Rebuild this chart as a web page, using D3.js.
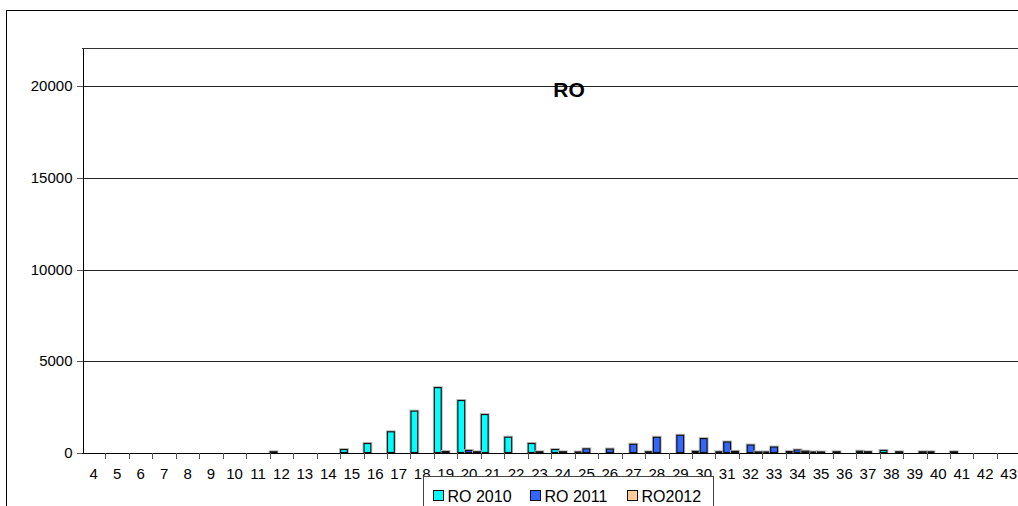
<!DOCTYPE html>
<html>
<head>
<meta charset="utf-8">
<script src="https://cdn.jsdelivr.net/npm/d3@7"></script>
<style>
  html, body { margin: 0; padding: 0; background: #fff; }
  svg { display: block; font-family: Arial, "Liberation Sans", sans-serif; }
</style>
</head>
<body>
<svg id="chart" width="1018" height="506"></svg>
<script>
// Weekly counts for RO, one value per week number
const categories = d3.range(4, 44).map(String);
const seriesNames = ["RO 2010", "RO 2011", "RO2012"];
const seriesColors = ["#00FFFF", "#3366FF", "#FFCC99"];

const ro2010 = [0, 0, 0, 0, 0, 0, 0, 0, 40, 0,
                0, 160, 490, 1130, 2260, 3540, 2835, 2070, 835, 490,
                160, 30, 0, 0, 40, 0, 60, 40, 0, 30,
                50, 30, 40, 70, 110, 0, 40, 40, 0, 0];
const ro2011 = [0, 0, 0, 0, 0, 0, 0, 0, 0, 0,
                0, 0, 0, 0, 0, 50, 110, 0, 0, 40,
                40, 200, 190, 450, 830, 940, 760, 575, 410, 300,
                140, 30, 0, 40, 0, 0, 0, 0, 0, 0];
const ro2012 = [0, 0, 0, 0, 0, 0, 0, 0, 0, 0,
                0, 0, 0, 0, 0, 0, 40, 0, 0, 0,
                0, 0, 0, 0, 0, 0, 0, 60, 30, 0,
                70, 0, 0, 0, 40, 40, 0, 0, 0, 0];
const yTicks = [0, 5000, 10000, 15000, 20000];
const yMax = 22100;
const title = "RO";

const seriesValues = [ro2010, ro2011, ro2012];

const svg = d3.select("#chart");

// Outer chart frame (runs past the right and bottom edges)
svg.append("rect")
  .attr("x", 6.5).attr("y", 10.5)
  .attr("width", 1040).attr("height", 520)
  .attr("fill", "#fff").attr("stroke", "#000").attr("stroke-width", 1);

const plot = { left: 82, top: 48, right: 82 + 40 * 23.46, bottom: 453 };

const x = d3.scaleBand().domain(categories).range([plot.left, plot.right]).padding(0);
const xs = d3.scaleBand().domain(seriesNames).range([0, x.bandwidth()]).padding(0);
const y = d3.scaleLinear().domain([0, yMax]).range([plot.bottom, plot.top]);

// Plot area top border
svg.append("line")
  .attr("x1", plot.left).attr("x2", 1018)
  .attr("y1", plot.top + 0.5).attr("y2", plot.top + 0.5)
  .attr("stroke", "#333").attr("shape-rendering", "crispEdges");

// Horizontal gridlines
svg.append("g")
  .selectAll("line")
  .data(yTicks.filter(d => d > 0))
  .join("line")
  .attr("x1", plot.left).attr("x2", 1018)
  .attr("y1", d => Math.round(y(d)) + 0.5)
  .attr("y2", d => Math.round(y(d)) + 0.5)
  .attr("stroke", "#222").attr("shape-rendering", "crispEdges");

// Y axis
const yAxis = d3.axisLeft(y).tickValues(yTicks).tickSizeInner(6).tickSizeOuter(0)
  .tickPadding(4).tickFormat(d3.format("d"));
const gy = svg.append("g")
  .attr("transform", `translate(${plot.left + 0.5},0.5)`)
  .call(yAxis);
gy.select(".domain").attr("stroke", "#000").attr("shape-rendering", "crispEdges");
gy.selectAll(".tick line").attr("stroke", "#555").attr("shape-rendering", "crispEdges");
gy.selectAll(".tick text")
  .attr("font-size", "15px").attr("fill", "#000")
  .attr("font-family", "Arial, 'Liberation Sans', sans-serif");
gy.selectAll(".tick").attr("transform", d => `translate(0,${Math.round(y(d))})`);

// Bars
const groups = svg.append("g")
  .selectAll("g")
  .data(seriesNames.map((name, i) => ({ name, color: seriesColors[i], values: seriesValues[i] })))
  .join("g");

groups.each(function (s) {
  const g = d3.select(this);
  const data = s.values.map((v, i) => ({ cat: categories[i], v })).filter(d => d.v > 0);
  // soft grey halo around each bar
  g.selectAll("rect.halo")
    .data(data)
    .join("rect")
    .attr("class", "halo")
    .attr("x", d => x(d.cat) + xs(s.name) - 0.5)
    .attr("y", d => y(d.v) - 1.5)
    .attr("width", xs.bandwidth() + 1)
    .attr("height", d => plot.bottom - y(d.v) + 1.5)
    .attr("fill", "none").attr("stroke", "#bbb").attr("stroke-width", 1);
  g.selectAll("rect.bar")
    .data(data)
    .join("rect")
    .attr("class", "bar")
    .attr("x", d => x(d.cat) + xs(s.name) + 0.5)
    .attr("y", d => y(d.v) - 0.5)
    .attr("width", xs.bandwidth() - 1)
    .attr("height", d => Math.max(0.5, plot.bottom - y(d.v)))
    .attr("fill", s.color).attr("stroke", "#111").attr("stroke-width", 1.2);
});

// X axis
const xAxis = d3.axisBottom(x).tickSize(0).tickPadding(15);
const gx = svg.append("g")
  .attr("transform", `translate(0,${plot.bottom + 0.5})`)
  .call(xAxis);
gx.select(".domain").attr("stroke", "#000").attr("d", `M${plot.left},0H1018`);
gx.selectAll(".tick text")
  .attr("font-size", "15px").attr("fill", "#000")
  .attr("font-family", "Arial, 'Liberation Sans', sans-serif");
// boundary tick marks between weeks
svg.append("g")
  .selectAll("line")
  .data(categories.map(c => x(c)).concat([plot.right]).slice(1))
  .join("line")
  .attr("x1", d => Math.round(d) + 0.5).attr("x2", d => Math.round(d) + 0.5)
  .attr("y1", plot.bottom).attr("y2", plot.bottom + 6)
  .attr("stroke", "#555").attr("shape-rendering", "crispEdges");

// Title
svg.append("text")
  .attr("x", 569).attr("y", 97)
  .attr("text-anchor", "middle")
  .attr("font-size", "21px").attr("font-weight", "bold")
  .text(title);

// Legend
const legend = svg.append("g").attr("transform", "translate(423.5,476.5)");
legend.append("rect")
  .attr("width", 290).attr("height", 60)
  .attr("fill", "#fff").attr("stroke", "#444");
const itemX = [10, 107, 204];
const items = legend.selectAll("g.item")
  .data(seriesNames.map((n, i) => ({ n, c: seriesColors[i], x: itemX[i] })))
  .join("g").attr("class", "item")
  .attr("transform", d => `translate(${d.x},0)`);
items.append("rect")
  .attr("x", 0).attr("y", 14).attr("width", 10).attr("height", 10)
  .attr("fill", d => d.c).attr("stroke", "#111");
items.append("text")
  .attr("x", 14).attr("y", 25)
  .attr("font-size", "16px").attr("fill", "#000")
  .text(d => d.n);
</script>
</body>
</html>
